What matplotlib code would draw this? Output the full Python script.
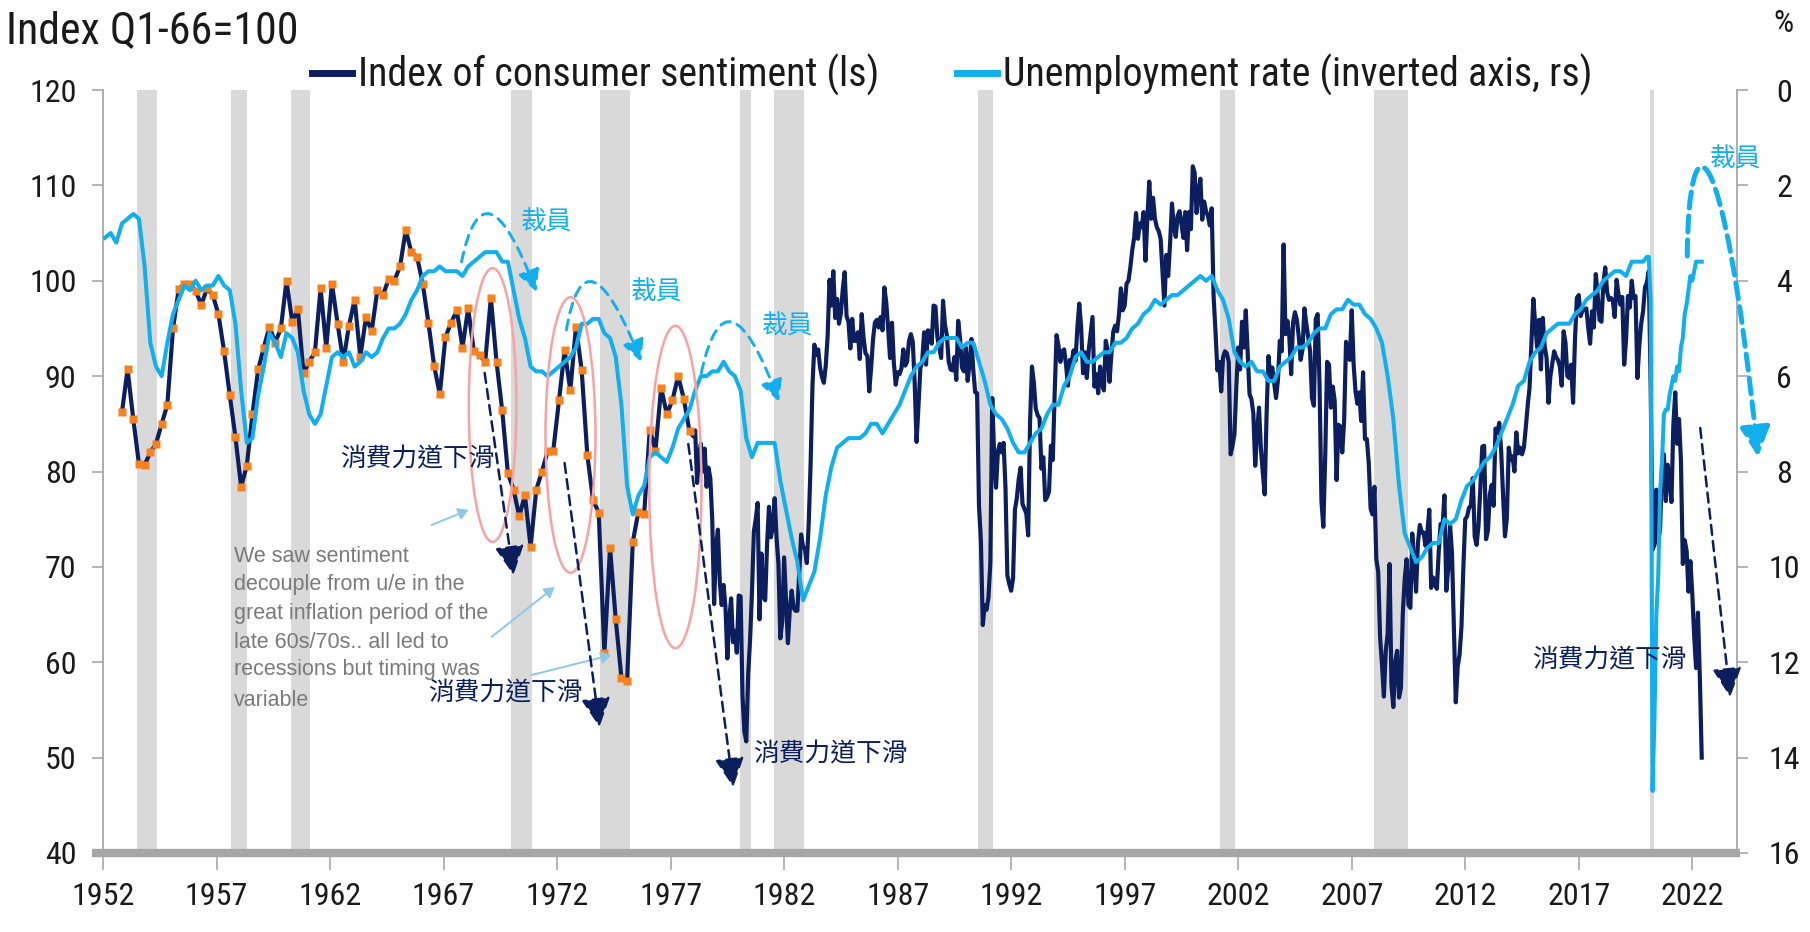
import numpy as np
import pandas as pd
import matplotlib
matplotlib.use('Agg')
import matplotlib.pyplot as plt
from matplotlib import font_manager as fm
from matplotlib.patches import Ellipse, FancyArrowPatch
from matplotlib.path import Path
from matplotlib.lines import Line2D
from matplotlib.textpath import TextPath

CJK = ['Noto Sans CJK TC', 'DejaVu Sans']
plt.rcParams['font.family'] = ['Liberation Sans', 'DejaVu Sans']

NAVY = '#0b1f5e'
SKY = '#12aeee'
ORANGE = '#f5821f'
AXIS_GRAY = '#a8a8a8'
REC_GRAY = '#d9d9d9'
TXT = '#1a1a1a'

# ---- data -------------------------------------------------------------
# consumer sentiment, quarterly survey (Nov 1952 .. Nov 1977)
sent_quarterly = [
    86.2, 90.7, 85.5, 80.8, 80.7, 82.0, 82.9, 85.0, 87.0, 95.0,
    99.1, 99.7, 99.7, 98.9, 97.5, 99.2, 98.5, 96.5, 92.6, 88.0,
    83.6, 78.4, 80.6, 86.0, 90.7, 93.0, 95.2, 93.5, 95.0, 100.0,
    95.7, 97.0, 90.3, 91.5, 92.5, 99.2, 93.0, 99.7, 95.5, 91.5,
    95.3, 98.0, 92.0, 96.2, 94.7, 99.0, 98.5, 100.2, 100.0, 101.5,
    105.3, 103.0, 102.5, 99.7, 95.6, 91.1, 88.1, 94.1, 95.6, 96.9,
    93.0, 97.1, 92.6, 92.2, 91.5, 98.2, 91.5, 86.4, 79.8, 78.1,
    75.3, 77.5, 72.1, 78.1, 80.0, 82.1, 82.2, 87.5, 92.7, 88.5,
    95.2, 90.6, 81.7, 77.0, 75.7, 61.0, 72.0, 64.5, 58.4, 58.0,
    72.6, 75.8, 75.5, 84.4, 82.2, 88.8, 86.0, 87.5, 90.0, 87.6,
    84.2,
]

# consumer sentiment, monthly (Jan 1978 .. Jun 2022)
sent_1978_1989 = [
    83.7, 84.3, 78.8, 81.6, 82.9, 80.0, 82.4, 78.4, 80.4, 79.3, 75.0, 66.1,
    72.1, 73.9, 68.4, 66.0, 68.1, 65.8, 60.4, 64.5, 66.7, 62.1, 63.3, 61.0,
    67.0, 66.9, 56.5, 52.7, 51.7, 58.7, 62.3, 67.3, 73.7, 75.0, 76.7, 64.5,
    71.4, 66.9, 66.5, 72.4, 76.3, 73.1, 74.1, 77.2, 73.1, 70.3, 62.5, 64.3,
    71.0, 66.5, 62.0, 65.5, 67.5, 65.7, 65.4, 65.4, 69.3, 73.4, 72.1, 71.9,
    70.4, 74.6, 80.8, 89.1, 93.3, 92.2, 92.8, 90.9, 89.9, 89.3, 91.1, 94.2,
    100.1, 97.4, 101.0, 96.1, 98.1, 95.5, 96.6, 99.1, 100.9, 96.3, 95.7, 92.9,
    96.0, 93.7, 93.7, 94.6, 91.8, 96.5, 94.0, 92.4, 92.1, 88.4, 90.9, 93.9,
    95.6, 95.9, 95.1, 96.2, 94.8, 99.3, 97.7, 94.9, 91.9, 95.6, 91.4, 89.1,
    90.4, 90.2, 90.8, 92.8, 91.1, 91.5, 93.7, 94.4, 93.6, 89.3, 83.1, 86.8,
    90.8, 91.6, 94.6, 91.2, 94.8, 94.7, 93.4, 97.4, 97.3, 94.1, 93.0, 91.9,
    97.9, 95.4, 94.3, 91.5, 90.7, 90.6, 92.0, 89.6, 95.8, 93.9, 90.9, 90.5,
]
sent_1990_1999 = [
    93.0, 89.5, 91.3, 93.9, 90.6, 88.3, 88.2, 76.4, 72.8, 63.9, 66.0, 65.5,
    66.8, 70.4, 87.7, 81.8, 78.3, 82.1, 82.9, 82.0, 83.0, 78.3, 69.1, 68.2,
    67.5, 68.8, 76.0, 77.2, 79.2, 80.4, 76.6, 76.1, 75.6, 73.3, 85.3, 91.0,
    89.3, 86.6, 85.9, 85.6, 80.3, 81.5, 77.0, 77.3, 77.9, 82.7, 81.2, 88.2,
    94.3, 93.2, 91.5, 92.6, 92.8, 91.2, 89.0, 91.7, 91.5, 92.7, 91.6, 95.1,
    97.6, 95.1, 90.3, 92.5, 89.8, 92.7, 94.4, 96.2, 88.9, 90.2, 88.2, 91.0,
    89.3, 88.5, 93.7, 92.7, 89.4, 92.4, 94.7, 95.3, 94.7, 96.5, 99.2, 96.9,
    97.4, 99.7, 100.0, 101.4, 103.2, 104.5, 107.1, 104.4, 106.0, 105.6, 107.2, 102.1,
    106.6, 110.4, 106.5, 108.7, 106.5, 105.6, 105.2, 104.4, 100.9, 97.4, 102.7, 100.5,
    103.9, 108.1, 105.7, 104.6, 106.8, 107.3, 106.0, 104.5, 107.2, 103.2, 107.2, 105.4,
]
sent_2000_2009 = [
    112.0, 111.3, 107.1, 109.2, 110.7, 106.4, 108.3, 107.3, 106.8, 105.8, 107.6, 98.4,
    94.7, 90.6, 91.5, 88.4, 92.0, 92.6, 92.4, 91.5, 81.8, 82.7, 83.9, 88.8,
    93.0, 90.7, 95.7, 93.0, 96.9, 92.4, 88.1, 87.6, 86.1, 80.6, 84.2, 86.7,
    82.4, 79.9, 77.6, 86.0, 92.1, 89.7, 90.9, 89.3, 87.7, 89.6, 93.7, 92.6,
    103.8, 94.4, 95.8, 94.2, 90.2, 95.6, 96.7, 95.9, 94.2, 91.7, 92.8, 97.1,
    95.5, 94.1, 92.6, 87.7, 86.9, 96.0, 96.5, 89.1, 76.9, 74.2, 81.6, 91.5,
    91.2, 86.7, 88.9, 87.4, 79.1, 84.9, 84.7, 82.0, 85.4, 93.6, 92.1, 91.7,
    96.9, 91.3, 88.4, 87.1, 88.3, 85.3, 90.4, 83.4, 83.4, 80.9, 76.1, 75.5,
    78.4, 70.8, 69.5, 62.6, 59.8, 56.4, 61.2, 63.0, 70.3, 57.6, 55.3, 60.1,
    61.2, 56.3, 57.3, 65.1, 68.7, 70.8, 66.0, 65.7, 73.5, 70.6, 67.4, 72.5,
]
sent_2010_2019 = [
    74.4, 73.6, 73.6, 72.2, 73.6, 76.0, 67.8, 68.9, 68.2, 67.7, 71.6, 74.5,
    74.2, 77.5, 67.5, 69.8, 74.3, 71.5, 63.7, 55.8, 59.5, 60.8, 63.7, 69.9,
    75.0, 75.3, 76.2, 76.4, 79.3, 73.2, 72.3, 74.3, 78.3, 82.6, 82.7, 72.9,
    73.8, 77.6, 78.6, 76.4, 84.5, 84.1, 85.1, 82.1, 77.5, 73.2, 75.1, 82.5,
    81.2, 81.6, 80.0, 84.1, 81.9, 82.5, 81.8, 82.5, 84.6, 86.9, 88.8, 93.6,
    98.1, 95.4, 93.0, 95.9, 90.7, 96.1, 93.1, 91.9, 87.2, 90.0, 91.3, 92.6,
    92.0, 91.7, 91.0, 89.0, 94.7, 93.5, 90.0, 89.8, 91.2, 87.2, 93.8, 98.2,
    98.5, 96.3, 96.9, 97.0, 97.1, 95.1, 93.4, 96.8, 95.1, 100.7, 98.5, 95.9,
    95.7, 99.7, 101.4, 98.8, 98.0, 98.2, 97.9, 96.2, 100.1, 98.6, 97.5, 98.3,
    91.2, 93.8, 98.4, 97.2, 100.0, 98.2, 98.4, 89.8, 93.2, 95.5, 96.8, 99.3,
]
sent_2020_2022 = [
    99.8, 101.0, 89.1, 71.8, 72.3, 78.1, 72.5, 74.1, 80.4, 81.8, 76.9, 80.7,
    79.0, 76.8, 84.9, 88.3, 82.9, 85.5, 81.2, 70.3, 72.8, 71.7, 67.4, 70.6,
    67.2, 62.8, 59.4, 65.2, 58.4, 50.0,
]

# unemployment rate, quarterly average (1952 Q1 .. 2019 Q4)
unemp_quarterly = [
    3.1, 3.0, 3.2, 2.8,  2.7, 2.6, 2.7, 3.7,  5.3, 5.8, 6.0, 5.3,
    4.7, 4.4, 4.1, 4.2,  4.0, 4.2, 4.1, 4.1,  3.9, 4.1, 4.2, 4.9,
    6.3, 7.4, 7.3, 6.4,  5.8, 5.1, 5.3, 5.6,  5.1, 5.2, 5.5, 6.3,
    6.8, 7.0, 6.8, 6.2,  5.6, 5.5, 5.6, 5.5,  5.8, 5.7, 5.5, 5.6,
    5.5, 5.2, 5.0, 5.0,  4.9, 4.7, 4.4, 4.2,  3.9, 3.8, 3.8, 3.7,
    3.8, 3.8, 3.8, 3.9,  3.7, 3.6, 3.5, 3.4,  3.4, 3.4, 3.6, 3.6,
    4.2, 4.8, 5.2, 5.8,  5.9, 5.9, 6.0, 5.9,  5.8, 5.7, 5.6, 5.4,
    4.9, 4.9, 4.8, 4.8,  5.1, 5.2, 5.6, 6.6,  8.3, 8.9, 8.5, 8.3,
    7.7, 7.6, 7.7, 7.8,  7.5, 7.1, 6.9, 6.7,  6.3, 6.0, 6.0, 5.9,
    5.9, 5.7, 5.9, 6.0,  6.3, 7.3, 7.7, 7.4,  7.4, 7.4, 7.4, 8.2,
    8.8, 9.4, 9.9, 10.7, 10.4, 10.1, 9.4, 8.5, 7.9, 7.5, 7.4, 7.3,
    7.3, 7.3, 7.2, 7.0,  7.0, 7.2, 7.0, 6.8,  6.6, 6.3, 6.0, 5.8,
    5.7, 5.5, 5.5, 5.3,  5.2, 5.2, 5.2, 5.4,  5.3, 5.3, 5.7, 6.1,
    6.6, 6.8, 6.9, 7.1,  7.4, 7.6, 7.6, 7.4,  7.2, 7.1, 6.8, 6.6,
    6.6, 6.2, 6.0, 5.6,  5.5, 5.7, 5.7, 5.6,  5.5, 5.5, 5.3, 5.3,
    5.2, 5.0, 4.9, 4.7,  4.6, 4.4, 4.5, 4.4,  4.3, 4.3, 4.2, 4.1,
    4.0, 3.9, 4.0, 3.9,  4.2, 4.4, 4.8, 5.5,  5.7, 5.8, 5.7, 5.9,
    5.9, 6.1, 6.1, 5.8,  5.7, 5.6, 5.4, 5.4,  5.3, 5.1, 5.0, 5.0,
    4.7, 4.6, 4.6, 4.4,  4.5, 4.5, 4.7, 4.8,  5.0, 5.3, 6.0, 6.9,
    8.3, 9.3, 9.6, 9.9,  9.8, 9.6, 9.5, 9.5,  9.0, 9.1, 9.0, 8.6,
    8.3, 8.2, 8.0, 7.8,  7.7, 7.5, 7.2, 6.9,  6.6, 6.2, 6.1, 5.7,
    5.5, 5.4, 5.1, 5.0,  4.9, 4.9, 4.9, 4.7,  4.6, 4.4, 4.3, 4.2,
    4.0, 3.9, 3.8, 3.8,  3.9, 3.6, 3.6, 3.6,
]
# unemployment rate, monthly (Jan 2020 .. Jun 2022)
unemp_2020_2022 = [
    3.5, 3.5, 4.4, 14.7, 13.2, 11.0, 10.2, 8.4, 7.8, 6.8, 6.7, 6.7,
    6.4, 6.2, 6.0, 6.1, 5.8, 5.9, 5.4, 5.2, 4.7, 4.5, 4.2, 3.9,
    4.0, 3.8, 3.6, 3.6, 3.6, 3.6,
]

# NBER recessions (start, end) in decimal years
recessions = [(1953.50, 1954.38), (1957.62, 1958.33), (1960.29, 1961.12),
              (1969.96, 1970.88), (1973.88, 1975.21), (1980.04, 1980.54),
              (1981.54, 1982.88), (1990.54, 1991.21), (2001.21, 2001.88),
              (2007.96, 2009.46), (2020.12, 2020.33)]

year_ticks = list(range(1952, 2023, 5))
left_ticks = list(range(40, 121, 10))
right_ticks = list(range(0, 17, 2))

legend_labels = ['Index of consumer sentiment (ls)', 'Unemployment rate (inverted axis, rs)']
note_lines = ['We saw sentiment', 'decouple from u/e in the', 'great inflation period of the',
              'late 60s/70s.. all led to', 'recessions but timing was', 'variable']


# ---- fonts: prefer a narrow sans if one is installed --------------------
def narrow_font():
    regular = [f for f in fm.fontManager.ttflist
               if f.style == 'normal' and f.weight in (400, 'normal', 'regular', 'book')]
    for want in ['Liberation Sans Narrow', 'Arial Narrow', 'Roboto Condensed',
                 'Open Sans Condensed', 'Noto Sans Condensed']:
        for f in regular:
            if f.name == want:
                return fm.FontProperties(fname=f.fname), True
    for f in regular:
        st = str(f.stretch)
        if (st in ('condensed', 'semi-condensed', 'extra-condensed') or st in ('300', '400')) \
                and 'Mono' not in f.name and 'Serif' not in f.name and 'CJK' not in f.name:
            return fm.FontProperties(fname=f.fname), True
    return fm.FontProperties(family=['Liberation Sans', 'DejaVu Sans']), False


FP, IS_NARROW = narrow_font()


def fit_pt(s, width_px, fp):
    em = TextPath((0, 0), s, size=100, prop=fp).get_extents().width / 100.0
    return width_px / em * 0.72


def sized(pt):
    p = FP.copy()
    p.set_size(pt)
    return p


def dec_year(dates):
    return dates.year + (dates.month - 1) / 12.0


# ---- x positions ------------------------------------------------------
sent_monthly = sent_1978_1989 + sent_1990_1999 + sent_2000_2009 + sent_2010_2019 + sent_2020_2022
x_sent_q = dec_year(pd.date_range('1952-11-01', periods=len(sent_quarterly), freq='3MS'))
x_sent_m = dec_year(pd.date_range('1978-01-01', periods=len(sent_monthly), freq='MS'))
x_sent = np.concatenate([x_sent_q, x_sent_m])
sent = sent_quarterly + sent_monthly

x_unemp = np.concatenate([dec_year(pd.date_range('1952-02-01', periods=len(unemp_quarterly), freq='3MS')),
                          dec_year(pd.date_range('2020-01-01', periods=len(unemp_2020_2022), freq='MS'))])
unemp = unemp_quarterly + unemp_2020_2022

# ---- figure -----------------------------------------------------------
fig = plt.figure(figsize=(18.1, 9.32), dpi=100)
ax = fig.add_axes([103 / 1810, 1 - 853 / 932, (1737 - 103) / 1810, (853 - 90) / 932])
ax2 = ax.twinx()

for a, b in recessions:
    ax.axvspan(a, b, color=REC_GRAY, lw=0, zorder=0)

ax.plot(x_sent, sent, color=NAVY, lw=3.0, zorder=3)
ax.plot(x_sent_q, sent_quarterly, ls='none', marker='s', ms=5.5, color=ORANGE, mec='none', zorder=4)
ax2.plot(x_unemp, unemp, color=SKY, lw=2.9, zorder=3)

ax.set_xlim(1952.09, 2023.97)
ax.set_ylim(40, 120)
ax2.set_ylim(16, 0)

ax.set_xticks(year_ticks)
ax.set_xticklabels([str(y) for y in year_ticks])
ax.set_yticks(left_ticks)
ax2.set_yticks(right_ticks)

for sp in ['top', 'right', 'bottom']:
    ax.spines[sp].set_visible(False)
for sp in ['top', 'left', 'bottom']:
    ax2.spines[sp].set_visible(False)
ax.spines['left'].set_color(AXIS_GRAY)
ax.spines['left'].set_linewidth(1.3)
ax2.spines['right'].set_color(AXIS_GRAY)
ax2.spines['right'].set_linewidth(1.3)

# thick grey base line
ax.plot([-0.007, 1.002], [0, 0], transform=ax.transAxes, color='#a6a6a6', lw=6,
        solid_capstyle='butt', clip_on=False, zorder=5)

tick_pt = 23 if IS_NARROW else 19.5
ax.tick_params(axis='x', direction='out', length=12, width=1.2, color=AXIS_GRAY, pad=9, labelcolor=TXT)
ax.tick_params(axis='y', direction='out', length=8, width=1.2, color=AXIS_GRAY, pad=11, labelcolor=TXT)
ax2.tick_params(axis='y', direction='out', length=8, width=1.2, color=AXIS_GRAY, pad=26, labelcolor=TXT)
for lab in ax.get_xticklabels() + ax.get_yticklabels() + ax2.get_yticklabels():
    lab.set_fontproperties(sized(tick_pt))
for lab in ax2.get_yticklabels():
    lab.set_horizontalalignment('center')

fig.text(6 / 1810, 1 - 31 / 932, 'Index Q1-66=100', fontproperties=sized(fit_pt('Index Q1-66=100', 286, FP)),
         ha='left', va='center', color=TXT)
fig.text(1783 / 1810, 1 - 23 / 932, '%', fontproperties=sized(tick_pt), ha='center', va='center', color=TXT)

leg_pt = fit_pt(legend_labels[0], 516, FP)
leg_px = leg_pt / 0.72
handles = [Line2D([], [], color=NAVY, lw=5), Line2D([], [], color=SKY, lw=5)]
fig.legend(handles, legend_labels, loc='center left', bbox_to_anchor=(312 / 1810, 1 - 75 / 932),
           ncol=2, frameon=False, prop=sized(leg_pt), handlelength=40 / leg_px,
           handletextpad=6 / leg_px, columnspacing=78 / leg_px,
           borderpad=0, borderaxespad=0, labelcolor=TXT)

# ---- annotations ------------------------------------------------------
T = ax.transData

for (cx, cy, w, h) in [(1969.16, 86.97, 2.1, 28.7), (1972.59, 83.83, 2.2, 28.9), (1977.21, 78.38, 2.3, 33.8)]:
    ax2.add_patch(Ellipse((cx, cy), w, h, transform=T, fill=False, ec='#f6a3a3', lw=1.8, zorder=6))


def curved_arrow(pts, color, lw, ms, dash):
    codes = [Path.MOVETO] + [Path.CURVE3 if len(pts) == 3 else Path.CURVE4] * (len(pts) - 1)
    arr = FancyArrowPatch(path=Path(pts, codes), arrowstyle='-|>,head_length=0.6,head_width=0.3',
                          mutation_scale=ms, color=color, lw=lw, linestyle=(0, dash),
                          transform=T, clip_on=False, zorder=7)
    ax2.add_patch(arr)


curved_arrow([(1967.79, 101.97), (1968.78, 113.39), (1971.09, 98.82)], SKY, 2.1, 22, (3.5, 2.5))
curved_arrow([(1972.41, 94.84), (1973.23, 106.37), (1975.71, 91.48)], SKY, 2.1, 22, (3.5, 2.5))
curved_arrow([(1978.35, 90.33), (1979.45, 102.33), (1981.78, 87.29)], SKY, 2.1, 22, (3.5, 2.5))
curved_arrow([(2021.78, 102.6), (2021.82, 117.4), (2023.32, 117.4), (2024.90, 81.52)], SKY, 3.6, 30, (3.2, 1.6))

for p0, p1 in [((1968.81, 90.33), (1970.08, 69.15)), ((1972.33, 80.89), (1973.87, 53.21)),
               ((1977.78, 82.88), (1979.76, 46.92)), ((2022.35, 84.56), (2023.67, 56.36))]:
    ax2.add_patch(FancyArrowPatch(p0, p1, arrowstyle='-|>,head_length=0.6,head_width=0.3',
                                  mutation_scale=30, color=NAVY, lw=1.8, linestyle=(0, (4, 2.5)),
                                  transform=T, clip_on=False, zorder=7, shrinkA=0, shrinkB=0))

for p0, p1 in [((1966.47, 74.39), (1968.10, 75.97)), ((1969.11, 62.65), (1971.89, 67.89)),
               ((1970.87, 58.66), (1974.39, 60.76))]:
    ax2.add_patch(FancyArrowPatch(p0, p1, arrowstyle='-|>,head_length=0.5,head_width=0.3',
                                  mutation_scale=12, color='#8cc8ea', lw=1.4,
                                  transform=T, zorder=6, shrinkA=0, shrinkB=0))

# grey side note, one text per line
for line, yv in zip(note_lines, [71.04, 68.10, 65.16, 62.12, 59.19, 56.04]):
    ax2.text(1957.76, yv, line, transform=T, fontsize=15.5, family=['Liberation Sans', 'DejaVu Sans'],
             color='#7a7a7a', ha='left', va='center', zorder=6)

for (x, y) in [(1965.86, 81.3), (1969.73, 56.75), (1984.03, 50.3), (2018.34, 60.2)]:
    ax2.text(x, y, '消費力道下滑', transform=T, family=CJK, fontsize=18.5, color=NAVY,
             ha='center', va='center', zorder=8)
for (x, y) in [(1971.53, 106.05), (1976.37, 98.72), (1982.14, 95.15), (2023.89, 112.66)]:
    ax2.text(x, y, '裁員', transform=T, family=CJK, fontsize=18.5, color=SKY,
             ha='center', va='center', zorder=8, clip_on=False)

fig.savefig('out.png', dpi=100)
